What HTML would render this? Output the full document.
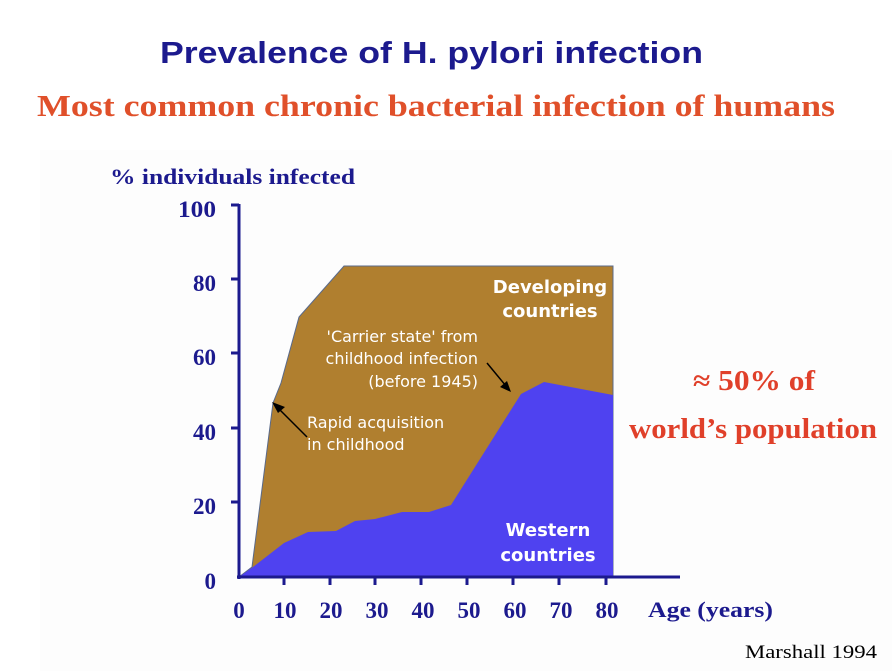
<!DOCTYPE html>
<html><head><style>body{margin:0;background:#fff}svg{display:block}</style></head>
<body>
<svg width="892" height="671" viewBox="0 0 892 671" xmlns="http://www.w3.org/2000/svg">
<rect width="892" height="671" fill="#fff"/>
<rect x="40" y="150" width="852" height="521" fill="#fdfdfd"/>
<text x="160" y="63" font-family="Liberation Sans, sans-serif" font-weight="bold" font-size="31" fill="#1c1a8e" textLength="543" lengthAdjust="spacingAndGlyphs">Prevalence of H. pylori infection</text>
<text x="37" y="116" font-family="Liberation Serif, serif" font-weight="bold" font-size="31" fill="#e0502a" textLength="798" lengthAdjust="spacingAndGlyphs">Most common chronic bacterial infection of humans</text>
<text x="110" y="184" font-family="Liberation Serif, serif" font-weight="bold" font-size="22" fill="#1c1a8e" textLength="245" lengthAdjust="spacingAndGlyphs">% individuals infected</text>
<g font-family="Liberation Serif, serif" font-weight="bold" font-size="23" fill="#1c1a8e" text-anchor="end">
<text x="216" y="217" textLength="38" lengthAdjust="spacingAndGlyphs">100</text><text x="216" y="291">80</text><text x="216" y="365">60</text><text x="216" y="440">40</text><text x="216" y="514">20</text><text x="216" y="589">0</text>
</g>
<g font-family="Liberation Serif, serif" font-weight="bold" font-size="23" fill="#1c1a8e" text-anchor="middle">
<text x="239" y="618">0</text><text x="285" y="618">10</text><text x="331" y="618">20</text><text x="377" y="618">30</text><text x="423" y="618">40</text><text x="469" y="618">50</text><text x="515" y="618">60</text><text x="561" y="618">70</text><text x="607" y="618">80</text>
</g>
<text x="648" y="617" font-family="Liberation Serif, serif" font-weight="bold" font-size="22" fill="#1c1a8e" textLength="125" lengthAdjust="spacingAndGlyphs">Age (years)</text>
<polygon points="252,567 273,403 281,383 299,317 307,308 344,266 613,266 613,577 239,577" fill="#b07f2f" stroke="#5a6a8a" stroke-width="1"/>
<polygon points="239,577 253,567 284,543 308,532 336,531 355,521 375,519 402,512 429,512 451,505 521,394 544,382 613,395 613,577" fill="#4f42f0"/>
<g stroke="#1c1a8e" stroke-width="3" fill="none">
<line x1="239" y1="204" x2="239" y2="579"/>
<line x1="237" y1="577" x2="680" y2="577"/>
</g>
<g stroke="#1c1a8e" stroke-width="3">
<line x1="231" y1="205" x2="239" y2="205"/><line x1="231" y1="279" x2="239" y2="279"/><line x1="231" y1="353" x2="239" y2="353"/><line x1="231" y1="428" x2="239" y2="428"/><line x1="231" y1="502" x2="239" y2="502"/>
<line x1="284" y1="577" x2="284" y2="585"/><line x1="330" y1="577" x2="330" y2="585"/><line x1="375" y1="577" x2="375" y2="585"/><line x1="421" y1="577" x2="421" y2="585"/><line x1="467" y1="577" x2="467" y2="585"/><line x1="513" y1="577" x2="513" y2="585"/><line x1="559" y1="577" x2="559" y2="585"/><line x1="606" y1="577" x2="606" y2="585"/>
</g>
<g stroke="#000" stroke-width="1.5">
<line x1="307" y1="437" x2="278" y2="408"/>
<line x1="487" y1="363" x2="506" y2="386"/>
</g>
<polygon points="272,402 285,407 278,413" fill="#000"/>
<polygon points="511,392 500,387 507,381" fill="#000"/>
<g font-family="DejaVu Sans, sans-serif" font-size="16" fill="#fff">
<text x="478" y="342" text-anchor="end">'Carrier state' from</text>
<text x="478" y="364" text-anchor="end">childhood infection</text>
<text x="478" y="387" text-anchor="end">(before 1945)</text>
<text x="307" y="428">Rapid acquisition</text>
<text x="307" y="450">in childhood</text>
</g>
<g font-family="DejaVu Sans, sans-serif" font-weight="bold" font-size="18" fill="#fff" text-anchor="middle">
<text x="550" y="293">Developing</text><text x="550" y="317">countries</text>
<text x="548" y="536">Western</text><text x="548" y="561">countries</text>
</g>
<g font-family="Liberation Serif, serif" font-weight="bold" font-size="28" fill="#e0402a">
<text x="693" y="390" textLength="122" lengthAdjust="spacingAndGlyphs">≈ 50% of</text>
<text x="629" y="438" textLength="248" lengthAdjust="spacingAndGlyphs">world’s population</text>
</g>
<text x="745" y="658" font-family="Liberation Serif, serif" font-size="19" fill="#000" textLength="132" lengthAdjust="spacingAndGlyphs">Marshall 1994</text>
</svg>
</body></html>
